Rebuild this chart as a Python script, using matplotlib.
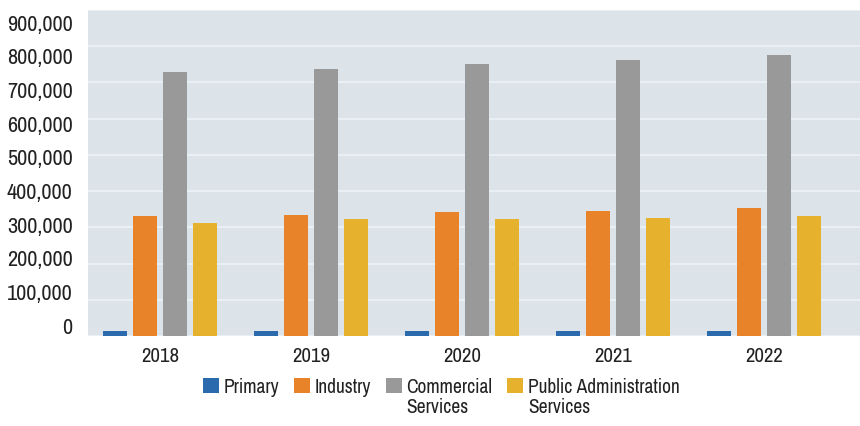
import numpy as np
import matplotlib
matplotlib.use('Agg')
import matplotlib.pyplot as plt

years = ['2018', '2019', '2020', '2021', '2022']
primary = [14000, 14000, 14000, 14000, 14000]
industry = [332000, 334000, 341000, 345000, 353000]
commercial = [730000, 737000, 751000, 762000, 776000]
public_admin = [313000, 322000, 322000, 327000, 331000]
ytick_values = list(range(0, 900001, 100000))

series = [('Primary', primary, '#2a6aad'),
          ('Industry', industry, '#e8832a'),
          ('Commercial\nServices', commercial, '#999999'),
          ('Public Administration\nServices', public_admin, '#e6b12c')]

plt.rcParams['font.family'] = ['Archivo Narrow', 'Barlow Semi Condensed', 'DejaVu Sans']

fig = plt.figure(figsize=(8.6, 4.26), dpi=100)
ax = fig.add_axes([0.1023, 0.2113, 0.8977, 0.7652])
ax.set_facecolor('#dce4ea')

x = np.arange(len(years))
width = 0.16
offsets = [-0.3, -0.1, 0.1, 0.3]
for (label, vals, color), off in zip(series, offsets):
    ax.bar(x + off, vals, width, color=color, label=label, zorder=3)

ax.set_xlim(-0.477, 4.636)
ax.set_ylim(0, 900000)
ax.set_yticks(ytick_values)
ax.yaxis.grid(True, color='#eef2f5', linewidth=1.2, zorder=0)
ax.set_xticks(x)
ax.set_xticklabels(years, fontsize=15, color='#222222')
ax.tick_params(axis='x', length=0, pad=8)
for s in ax.spines.values():
    s.set_visible(False)

# value labels sit on their own scale, a little off the gridlines
lab = ax.twinx()
lab.set_ylim(-30600, 937700)
lab.yaxis.tick_left()
lab.set_yticks(ytick_values)
lab.set_yticklabels([f'{v:,}' for v in ytick_values], fontsize=16, color='#222222')
lab.tick_params(axis='y', length=0, pad=11)
for s in lab.spines.values():
    s.set_visible(False)
ax.tick_params(axis='y', left=False, right=False, labelleft=False, labelright=False)

leg = fig.legend(loc='upper center', bbox_to_anchor=(0.513, 0.154), ncol=4, frameon=False,
                 fontsize=14, handlelength=0.82, handleheight=0.82, handletextpad=0.25,
                 columnspacing=0.75, labelspacing=0.1)
# keep the colour squares and short labels level with the first line of two-line labels
leg._legend_handle_box.align = 'top'
for col in leg._legend_handle_box.get_children():
    col.align = 'left'
    for row in col.get_children():
        row.align = 'top'
for t in leg.get_texts():
    t.set_linespacing(1.05)
    t.set_color('#222222')

fig.savefig('out.png', dpi=100)
